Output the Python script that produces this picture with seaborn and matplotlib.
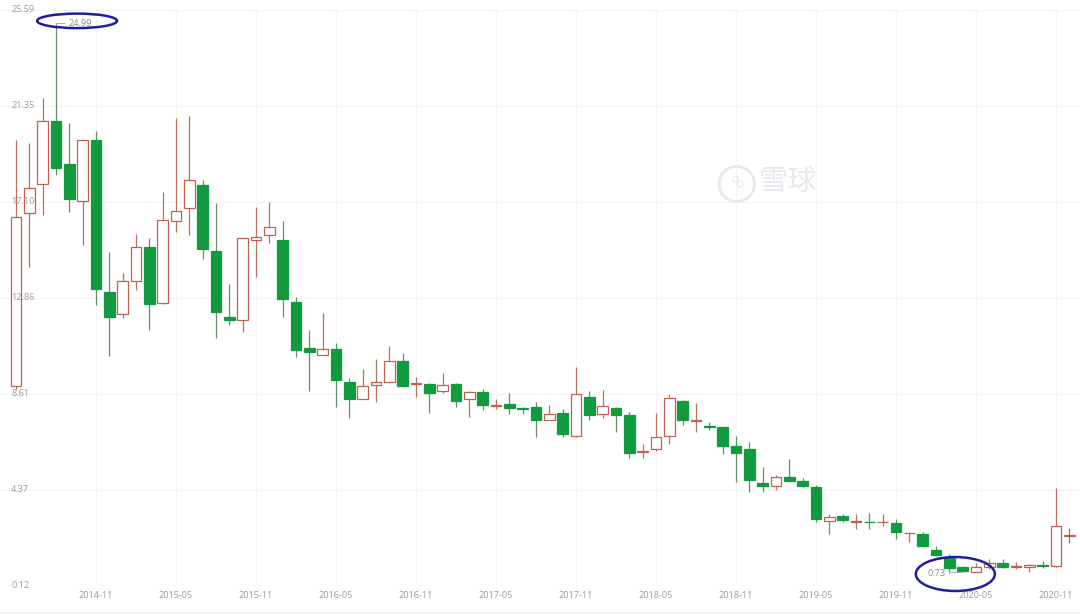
import numpy as np
import pandas as pd
import matplotlib
matplotlib.use("Agg")
import matplotlib.pyplot as plt
from matplotlib.patches import Ellipse
import seaborn as sns

# monthly candles, 2014-05 .. 2020-12
months = pd.date_range("2014-05-01", periods=80, freq="MS").strftime("%Y-%m").tolist()

open_px = [8.98, 16.60, 17.88, 20.66, 18.76, 17.13, 19.86, 13.12, 12.15, 13.61,
           15.10, 12.64, 16.25, 16.82, 17.84, 14.93, 12.02, 11.89, 15.41, 15.63,
           15.41, 12.68, 10.65, 10.34, 10.61, 9.15, 8.41, 9.02, 9.15, 10.08,
           9.05, 9.07, 8.76, 9.07, 8.41, 8.71, 8.08, 8.18, 7.99, 8.05,
           7.48, 7.79, 6.77, 8.49, 7.74, 8.01, 7.66, 6.03, 6.16, 6.77,
           8.32, 7.42, 7.19, 7.13, 6.33, 6.16, 4.66, 4.53, 4.92, 4.75,
           4.48, 2.98, 3.20, 2.97, 2.96, 2.93, 2.90, 2.45, 2.41, 1.73,
           1.38, 0.96, 0.76, 0.94, 1.13, 0.97, 0.98, 1.05, 1.00, 2.35]
high_px = [19.82, 19.73, 21.71, 24.99, 20.61, 19.90, 20.26, 14.88, 13.96, 15.68,
           15.50, 17.53, 20.83, 20.92, 18.06, 17.04, 13.47, 15.52, 16.87, 17.09,
           16.25, 12.90, 11.45, 12.20, 10.87, 9.33, 9.73, 10.17, 10.74, 10.43,
           9.37, 9.10, 9.55, 9.11, 8.73, 8.85, 8.41, 8.67, 8.05, 8.27,
           8.14, 7.96, 9.82, 8.76, 8.80, 8.03, 7.83, 6.38, 7.79, 8.63,
           8.34, 8.23, 7.35, 7.17, 6.77, 6.47, 5.36, 5.01, 5.72, 4.88,
           4.57, 3.29, 3.29, 3.29, 3.34, 3.29, 3.07, 2.50, 2.50, 1.88,
           1.55, 1.00, 1.13, 1.33, 1.31, 1.20, 1.09, 1.22, 4.44, 2.68]
low_px = [8.85, 14.22, 16.51, 18.28, 16.65, 15.19, 12.55, 10.30, 11.97, 13.21,
          11.45, 12.60, 15.76, 15.63, 14.57, 11.09, 11.67, 11.36, 13.78, 15.28,
          12.02, 10.26, 8.76, 10.32, 8.05, 7.57, 8.38, 8.27, 9.12, 8.93,
          8.49, 7.79, 8.67, 8.05, 7.61, 7.92, 7.96, 7.74, 7.74, 6.69,
          7.46, 6.69, 6.69, 7.44, 7.57, 6.95, 5.76, 5.76, 6.07, 6.42,
          7.22, 6.91, 7.04, 5.94, 4.70, 4.26, 4.26, 4.35, 4.70, 4.48,
          2.94, 2.41, 2.94, 2.63, 2.63, 2.76, 2.19, 2.06, 1.84, 1.44,
          0.75, 0.73, 0.74, 0.87, 0.91, 0.87, 0.76, 0.91, 0.98, 2.01]
close_px = [16.43, 17.70, 20.70, 18.59, 17.22, 19.86, 13.25, 12.02, 13.61, 15.10,
            12.59, 16.29, 16.69, 18.06, 15.02, 12.24, 11.89, 15.50, 15.54, 15.99,
            12.81, 10.56, 10.48, 10.61, 9.24, 8.41, 8.98, 9.15, 10.08, 8.98,
            9.08, 8.67, 9.02, 8.32, 8.71, 8.14, 8.11, 8.01, 7.94, 7.44,
            7.74, 6.82, 8.63, 7.66, 8.10, 7.66, 5.98, 6.11, 6.73, 8.45,
            7.48, 7.45, 7.15, 6.33, 5.98, 4.79, 4.53, 4.92, 4.75, 4.53,
            3.07, 3.16, 3.03, 2.99, 2.93, 2.95, 2.50, 2.47, 1.88, 1.49,
            0.91, 0.78, 0.94, 1.13, 0.98, 0.99, 1.07, 0.99, 2.76, 2.39]

y_ticks = [0.12, 4.37, 8.61, 12.86, 17.10, 21.35, 25.59]
x_tick_months = ["2014-11", "2015-05", "2015-11", "2016-05", "2016-11", "2017-05", "2017-11",
                 "2018-05", "2018-11", "2019-05", "2019-11", "2020-05", "2020-11"]

df = pd.DataFrame({"month": months, "open": open_px, "high": high_px,
                   "low": low_px, "close": close_px})
df["idx"] = np.arange(len(df))
df["up"] = df["close"] >= df["open"]

up_edge = "#c0604f"
up_wick = "#b8705f"
down_fill = "#119b3e"
down_wick = "#5f8f6b"

sns.set_theme(style="white")
plt.rcParams["font.family"] = ["Open Sans", "Noto Sans CJK SC", "DejaVu Sans"]

fig = plt.figure(figsize=(10.8, 6.14), dpi=100)
ax = fig.add_axes([0, 28 / 614, 1, 576 / 614])

# watermark
fig.text(0.682, 0.702, "\u25CB", fontsize=36, color="#e6eaee", ha="center", va="center",
         family="DejaVu Sans")
fig.text(0.682, 0.702, "\u221E", fontsize=15, color="#e6eaee", ha="center", va="center",
         rotation=-45, family="DejaVu Sans")
fig.text(0.703, 0.703, "雪球", fontsize=21, color="#e6eaee", ha="left", va="center",
         family="Noto Sans CJK SC")

# light grid behind everything
for v in y_ticks:
    ax.axhline(v, color="#f3f3f3", linewidth=0.8, zorder=0)
xt = [months.index(m) for m in x_tick_months]
for v in xt:
    ax.axvline(v, color="#f5f5f5", linewidth=0.8, zorder=0)

# wicks
ax.vlines(df["idx"], df["low"], df["high"],
          colors=np.where(df["up"], up_wick, down_wick), linewidth=0.9, zorder=2)

# bodies
body_bottom = np.minimum(df["open"], df["close"])
body_height = np.maximum((df["close"] - df["open"]).abs(), 0.02)
ax.bar(df["idx"], body_height, bottom=body_bottom, width=0.8,
       color=np.where(df["up"], "white", down_fill),
       edgecolor=np.where(df["up"], up_edge, down_fill), linewidth=0.9, zorder=3)

ax.set_xlim(-1.2, 79.8)
ax.set_ylim(y_ticks[0], y_ticks[-1])
ax.set_yticks(y_ticks)
ax.set_yticklabels([f"{v:.2f}" for v in y_ticks])
ax.set_xticks(xt)
ax.set_xticklabels(x_tick_months)
ax.grid(False)
ax.tick_params(axis="both", length=0, labelsize=6.6, labelcolor="#9a9a9a")
ax.tick_params(axis="x", pad=3.5)
ax.tick_params(axis="y", pad=-8)
for lab in ax.get_yticklabels():
    lab.set_horizontalalignment("left")
    lab.set_verticalalignment("center")
ax.yaxis.set_zorder(6)
sns.despine(ax=ax, left=True, bottom=True)

# max / min markers
imax = int(df["high"].idxmax())
imin = int(df["low"].idxmin())
ax.annotate(f"{df['high'][imax]:.2f}", xy=(imax, df["high"][imax]), xytext=(9, 0),
            textcoords="offset points", ha="left", va="center", fontsize=6.6, color="#8a8a8a",
            arrowprops=dict(arrowstyle="-", color="#9a9a9a", lw=0.6, shrinkA=0, shrinkB=0))
ax.annotate(f"{df['low'][imin]:.2f}", xy=(imin, df["low"][imin]), xytext=(-12, -1),
            textcoords="offset points", ha="right", va="center", fontsize=6.6, color="#8a8a8a",
            arrowprops=dict(arrowstyle="-", color="#9a9a9a", lw=0.6, shrinkA=0, shrinkB=0))

# hand-drawn circles
ax.add_patch(Ellipse((imax + 1.58, df["high"][imax] + 0.12), 6.0, 0.64, fill=False,
                     edgecolor="#1f1f9e", linewidth=1.8, clip_on=False, zorder=5))
ax.add_patch(Ellipse((imin - 0.55, df["low"][imin] - 0.08), 5.93, 1.5, fill=False,
                     edgecolor="#1f1f9e", linewidth=1.8, clip_on=False, zorder=5))

# bottom rule
fig.add_artist(plt.Line2D([0, 1], [2 / 614, 2 / 614], color="#eeeeee", linewidth=1))

fig.savefig("out.png", dpi=100)
